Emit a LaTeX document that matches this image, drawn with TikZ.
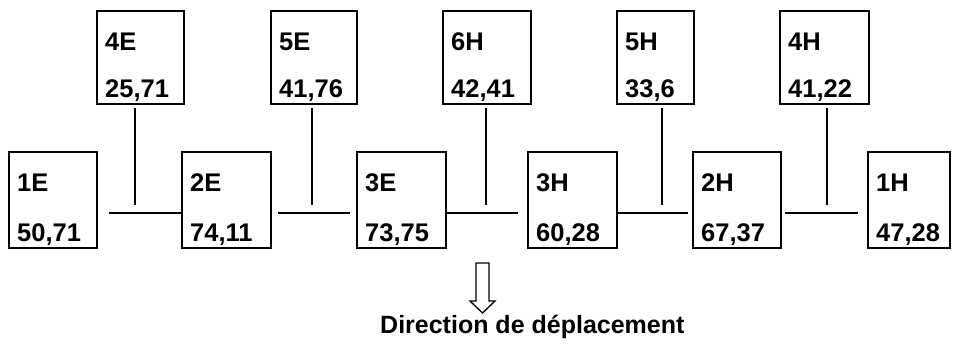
\documentclass[tikz,border=0pt]{standalone}
\usepackage{fontspec}
\setmainfont{Liberation Sans}
\newcommand\mybox[7]{%
  \node[box,minimum width={#3-#2},minimum height={#5-#4}] (#1) at ({(#2+#3)/2},{(#4+#5)/2}) {};
  \node[lbl] (#1l) at ({#2+8},{#4+39}) {#6};
  \node[lbl] (#1v) at ({#2+8},{#5-7}) {#7};}
\begin{document}
\begin{tikzpicture}[x=1pt,y=-1pt,
  box/.style={draw,line width=2.4pt,inner sep=0pt,outer sep=0pt},
  lbl/.style={anchor=base west,inner sep=0pt,font=\fontsize{25.5}{30}\selectfont\bfseries},
  conn/.style={line width=1.5pt},
  hollowarrow/.style={line width=1.3pt,line join=miter}]
\useasboundingbox (0,0) rectangle (955,343);
% top row
\mybox{b4E}{97}{184}{11}{104}{4E}{25,71}
\mybox{b5E}{271}{357}{11}{104}{5E}{41,76}
\mybox{b6H}{443}{531}{11}{104}{6H}{42,41}
\mybox{b5H}{617}{694}{11}{104}{5H}{33,6}
\mybox{b4H}{780}{869}{11}{104}{4H}{41,22}
% bottom row
\mybox{b1E}{9}{97}{152}{248}{1E}{50,71}
\mybox{b2E}{182}{271}{152}{248}{2E}{74,11}
\mybox{b3E}{357}{446}{152}{248}{3E}{73,75}
\mybox{b3H}{528}{617}{152}{248}{3H}{60,28}
\mybox{b2H}{693}{781}{152}{248}{2H}{67,37}
\mybox{b1H}{868}{950}{152}{248}{1H}{47,28}
% horizontal connector ends
\coordinate (h1a) at (109,213);
\coordinate (h2a) at (278,213);
\coordinate (h2b) at (350,213);
\coordinate (h3b) at (518,213);
\coordinate (h4b) at (688,213);
\coordinate (h5a) at (785,213);
\coordinate (h5b) at (858,213);
\draw[conn] (h1a) -- (b2E.west |- h1a);
\draw[conn] (h2a) -- (h2b);
\draw[conn] (b3E.east |- h3b) -- (h3b);
\draw[conn] (b3H.east |- h4b) -- (h4b);
\draw[conn] (h5a) -- (h5b);
% vertical connectors
\coordinate (v1t) at (135,108); \coordinate (v1b) at (135,205);
\coordinate (v2t) at (312,108); \coordinate (v2b) at (312,205);
\coordinate (v3t) at (486,108); \coordinate (v3b) at (486,205);
\coordinate (v4t) at (662,108); \coordinate (v4b) at (662,205);
\coordinate (v5t) at (827,108); \coordinate (v5b) at (827,205);
\draw[conn] (v1t) -- (v1b);
\draw[conn] (v2t) -- (v2b);
\draw[conn] (v3t) -- (v3b);
\draw[conn] (v4t) -- (v4b);
\draw[conn] (v5t) -- (v5b);
% direction arrow and caption
\draw[hollowarrow] (476,263) -- (489,263) -- (489,301) -- (495,301) -- (482.5,313) -- (470,301) -- (476,301) -- cycle;
\node[anchor=base west,inner sep=0pt,font=\fontsize{25}{30}\selectfont\bfseries] (dir) at (380,333) {Direction de déplacement};
\end{tikzpicture}
\end{document}
